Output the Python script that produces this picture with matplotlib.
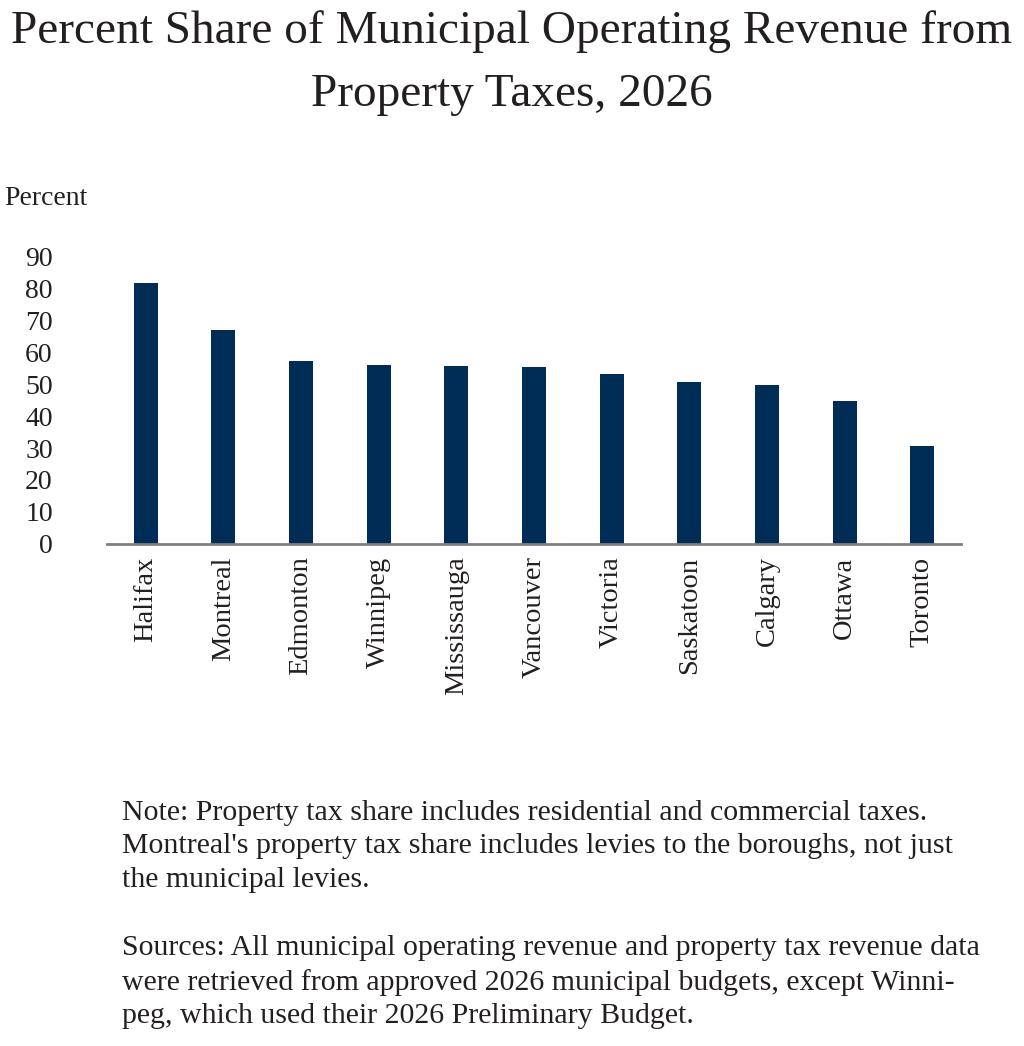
import matplotlib.pyplot as plt

# données
villes = ["Halifax", "Montreal", "Edmonton", "Winnipeg", "Mississauga",
          "Vancouver", "Victoria", "Saskatoon", "Calgary", "Ottawa", "Toronto"]
part_taxe = [81.7, 67.0, 57.3, 56.1, 55.8, 55.4, 53.2, 50.8, 49.6, 44.6, 30.5]
yticks = [0, 10, 20, 30, 40, 50, 60, 70, 80, 90]

titre = "Percent Share of Municipal Operating Revenue from\nProperty Taxes, 2026"
note = ("Note: Property tax share includes residential and commercial taxes.\n"
        "Montreal's property tax share includes levies to the boroughs, not just\n"
        "the municipal levies.")
sources = ("Sources: All municipal operating revenue and property tax revenue data\n"
           "were retrieved from approved 2026 municipal budgets, except Winni-\n"
           "peg, which used their 2026 Preliminary Budget.")

plt.rcParams['font.family'] = ['Liberation Serif', 'DejaVu Serif']
couleur_texte = '#231f20'

fig = plt.figure(figsize=(10.24, 10.46), dpi=100)
ax = fig.add_axes([0.1045, 0.480, 0.834, 0.275])

ax.bar(range(len(villes)), part_taxe, width=0.31, color='#002d56')

ax.set_xlim(-0.5, len(villes) - 0.5)
ax.set_ylim(0, 90)
ax.set_yticks(yticks)
ax.set_xticks(range(len(villes)))
ax.set_xticklabels(villes, rotation=90, fontsize=20.5, color=couleur_texte)
ax.tick_params(axis='y', length=0, pad=39, labelsize=20, labelcolor=couleur_texte)
ax.tick_params(axis='x', length=0, pad=9)

for s in ['top', 'right', 'left']:
    ax.spines[s].set_visible(False)
ax.spines['bottom'].set_color('#7f7f7f')
ax.spines['bottom'].set_linewidth(2)

fig.text(0.5, 0.990, titre, ha='center', va='top', fontsize=34,
         color=couleur_texte, linespacing=1.62)
fig.text(0.004, 0.810, "Percent", ha='left', va='center', fontsize=20,
         color=couleur_texte)
fig.text(0.119, 0.235, note, ha='left', va='top', fontsize=21.5,
         color=couleur_texte, linespacing=1.36)
fig.text(0.119, 0.106, sources, ha='left', va='top', fontsize=21.5,
         color=couleur_texte, linespacing=1.36)

fig.savefig('out.png', dpi=100)
